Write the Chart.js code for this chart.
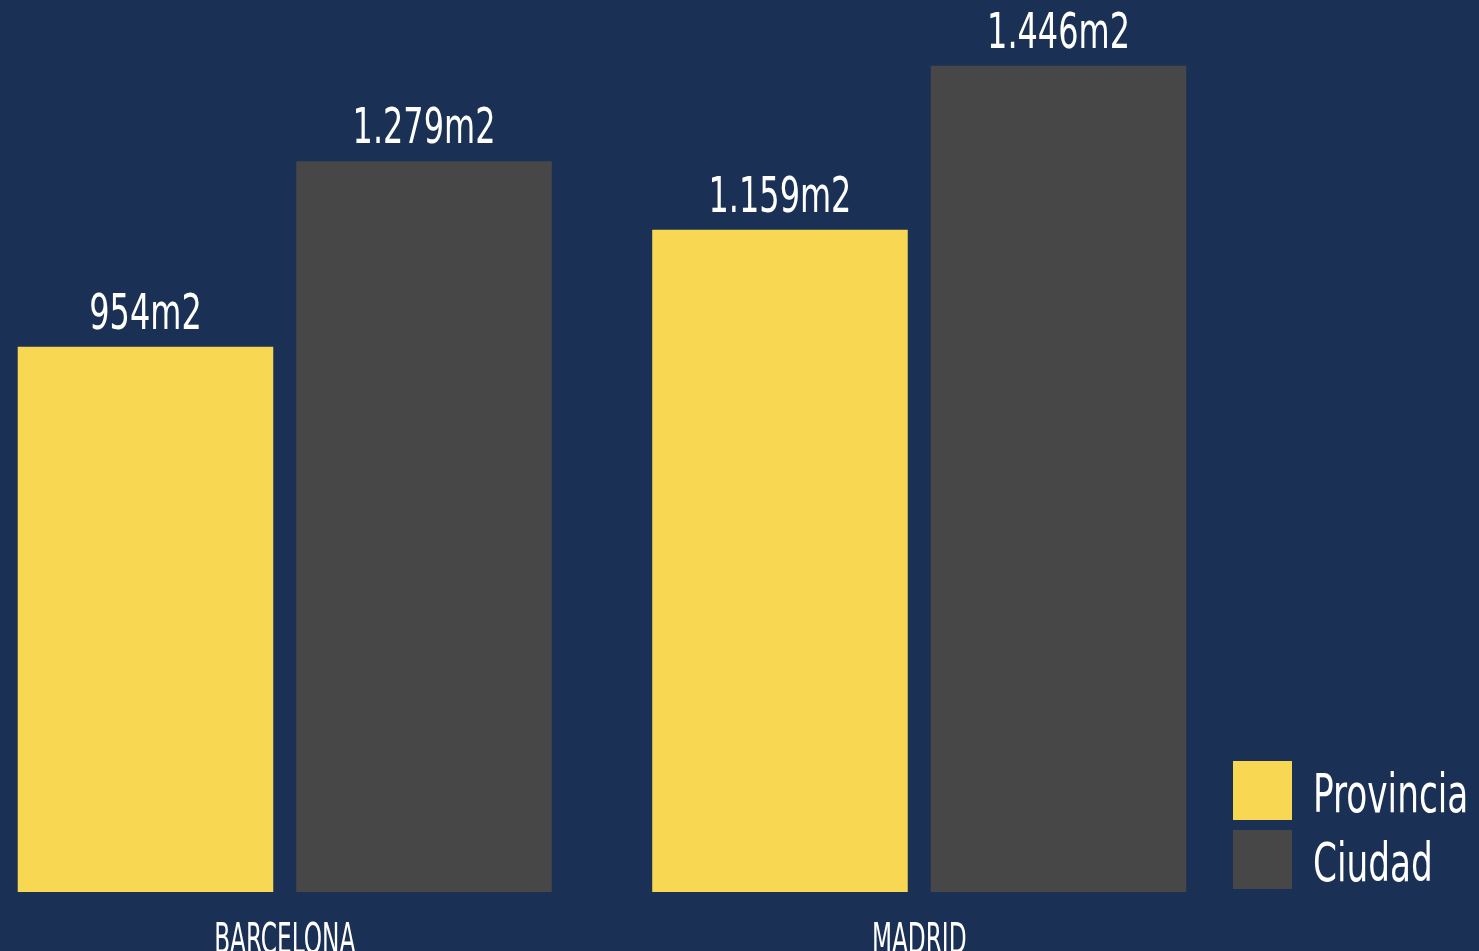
<!DOCTYPE html>
<html><head><meta charset="utf-8">
<script src="https://cdn.jsdelivr.net/npm/chart.js@4"></script>
<style>html,body{margin:0;padding:0;background:#1b3055;overflow:hidden}
#wrap{width:1479px;height:951px}</style></head>
<body><div id="wrap"><canvas id="c" width="1479" height="951"></canvas></div>
<script>
const categories = ['BARCELONA', 'MADRID'];
const seriesNames = ['Provincia', 'Ciudad'];
const provincia = [954, 1159];
const ciudad = [1279, 1446];
const unit = 'm2';

const BG = '#1b3055';
const COLORS = ['#f8d752', '#474747'];
const FONT = '"DejaVu Sans Condensed","Liberation Sans Narrow","Liberation Sans",sans-serif';

function fmt(n) { return String(n).replace(/\B(?=(\d{3})+(?!\d))/g, '.') + unit; }

function drawText(ctx, text, x, y, size, sx, align) {
  ctx.save();
  ctx.translate(x, y);
  ctx.scale(sx, 1);
  ctx.font = size + 'px ' + FONT;
  ctx.fillStyle = '#ffffff';
  ctx.textAlign = align;
  ctx.textBaseline = 'alphabetic';
  ctx.fillText(text, 0, 0);
  ctx.restore();
}

const textPlugin = {
  id: 'textPlugin',
  beforeDraw(chart) {
    const ctx = chart.ctx;
    ctx.save();
    ctx.fillStyle = BG;
    ctx.fillRect(0, 0, chart.width, chart.height);
    ctx.restore();
  },
  afterDatasetsDraw(chart) {
    const ctx = chart.ctx;
    chart.data.datasets.forEach((ds, di) => {
      const meta = chart.getDatasetMeta(di);
      meta.data.forEach((bar, i) => {
        drawText(ctx, fmt(ds.data[i].y), bar.x, bar.y - 18, 49, 0.725, 'center');
      });
    });
    const xs = chart.scales.x;
    categories.forEach((c, i) => {
      drawText(ctx, c, xs.getPixelForValue(i), 953, 42, 0.615, 'center');
    });
    const legendX = 1233, box = 59, rowGap = 69, top0 = 761;
    chart.data.datasets.forEach((ds, di) => {
      const y = top0 + di * rowGap;
      ctx.fillStyle = ds.backgroundColor;
      ctx.fillRect(legendX, y, box, box);
      drawText(ctx, ds.label, 1313, y + 51, 53, 0.72, 'left');
    });
  }
};

const toPoints = arr => arr.map((v, i) => ({ x: i, y: v }));

new Chart(document.getElementById('c'), {
  type: 'bar',
  data: {
    datasets: [
      { label: seriesNames[0], data: toPoints(provincia), backgroundColor: COLORS[0], borderWidth: 0 },
      { label: seriesNames[1], data: toPoints(ciudad), backgroundColor: COLORS[1], borderWidth: 0 }
    ]
  },
  options: {
    responsive: false,
    animation: false,
    devicePixelRatio: 1,
    categoryPercentage: 0.878,
    barPercentage: 0.9174,
    layout: { padding: { left: 0, right: 0, top: 0, bottom: 59 } },
    plugins: { legend: { display: false }, tooltip: { enabled: false } },
    scales: {
      x: {
        type: 'linear', min: -0.4488, max: 1.8822, offset: false, display: false,
        afterBuildTicks: s => { s.ticks = categories.map((c, i) => ({ value: i })); }
      },
      y: { min: 0, max: 1561, display: false }
    }
  },
  plugins: [textPlugin]
});
</script>
</body></html>
